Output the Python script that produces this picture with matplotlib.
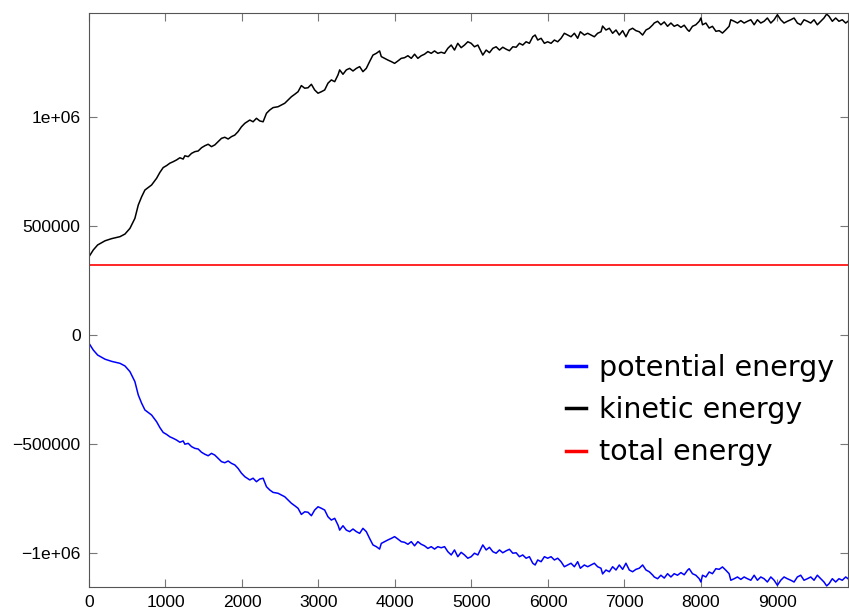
import numpy as np
import matplotlib
matplotlib.use("Agg")
import matplotlib.pyplot as plt

# time steps of the MD run
steps = [0, 56, 113, 209, 296, 405, 470, 535, 600, 644, 688, 731, 818,
         884, 927, 970, 1014, 1057, 1101, 1145, 1188, 1231, 1253, 1297, 1340, 1384,
         1427, 1471, 1514, 1558, 1601, 1645, 1688, 1732, 1775, 1819, 1863, 1906, 1949,
         1993, 2037, 2102, 2145, 2189, 2232, 2276, 2320, 2363, 2406, 2471, 2515,
         2559, 2602, 2646, 2689, 2733, 2776, 2820, 2863, 2907, 2950, 2994, 3038, 3081,
         3124, 3168, 3212, 3255, 3277, 3320, 3364, 3407, 3451, 3495, 3538, 3581, 3625,
         3668, 3712, 3756, 3799, 3821, 3864, 3908, 3952, 3995, 4038, 4082, 4125, 4169,
         4213, 4256, 4299, 4343, 4386, 4430, 4474, 4517, 4560, 4604, 4648, 4691, 4735,
         4778, 4821, 4865, 4909, 4952,
         4996, 5039, 5083, 5126, 5148, 5192, 5235, 5279, 5322, 5366, 5409, 5453, 5496,
         5540, 5584, 5627, 5670, 5714, 5757, 5801, 5832, 5866, 5910, 5953, 5996, 6040,
         6084, 6127, 6171, 6214, 6258, 6301, 6345, 6388, 6423, 6475, 6519, 6562, 6606,
         6649, 6693, 6714, 6758, 6802, 6845, 6889, 6932, 6976, 7019, 7063, 7106, 7150,
         7193, 7237, 7281, 7324, 7368,
         7389, 7433, 7476, 7520, 7563, 7607, 7650, 7693, 7738, 7781, 7824, 7846, 7889,
         7933, 7977, 7999, 8020, 8064, 8107, 8150, 8195, 8238, 8281, 8325, 8368, 8390,
         8434, 8477, 8521, 8564, 8607, 8652, 8695, 8738, 8782, 8825, 8868, 8913, 8956,
         8999, 9043, 9086, 9129, 9174, 9217, 9260, 9304, 9347, 9391, 9435, 9478, 9521,
         9565, 9608, 9643, 9674, 9717, 9761, 9804, 9847, 9892, 9922]

# energies in units of 1000
kinetic_k = [359, 390, 413, 432, 442, 451, 463, 489, 535, 596, 634, 665, 688,
             719, 746, 768, 777, 788, 795, 803, 813, 807, 822, 818, 833, 841,
             844, 859, 868, 875, 864, 872, 887, 902, 907, 899, 910, 917, 933,
             955, 971, 986, 978, 994, 982, 978, 1017, 1032, 1043, 1047, 1055,
             1063, 1078, 1093, 1104, 1116, 1144, 1132, 1134, 1150, 1124, 1109, 1116, 1124,
             1155, 1170, 1162, 1193, 1216, 1196, 1216, 1223, 1211, 1223, 1231, 1208, 1223,
             1254, 1284, 1292, 1303, 1277, 1269, 1261, 1254, 1246, 1257, 1269, 1272, 1281,
             1269, 1288, 1269, 1281, 1288, 1300, 1292, 1303, 1292, 1297, 1292, 1315, 1330,
             1307, 1338, 1318, 1330, 1345,
             1338, 1322, 1330, 1300, 1284, 1307, 1295, 1315, 1322, 1307, 1320, 1311, 1304,
             1322, 1320, 1338, 1330, 1345, 1338, 1368, 1376, 1353, 1361, 1338, 1345, 1338,
             1353, 1345, 1361, 1384, 1376, 1368, 1384, 1361, 1391, 1376, 1384, 1376, 1368,
             1384, 1391, 1417, 1399, 1407, 1384, 1399, 1376, 1396, 1368, 1399, 1407, 1396,
             1391, 1376, 1399, 1407, 1422,
             1431, 1439, 1423, 1436, 1416, 1431, 1416, 1423, 1411, 1421, 1400, 1393, 1416,
             1423, 1439, 1454, 1423, 1431, 1408, 1416, 1393, 1396, 1385, 1400, 1416, 1446,
             1439, 1431, 1442, 1431, 1439, 1446, 1423, 1446, 1431, 1439, 1454, 1431, 1446,
             1469, 1446, 1431, 1439, 1446, 1454, 1431, 1423, 1446, 1439, 1431, 1446, 1423,
             1439, 1454, 1472, 1462, 1439, 1454, 1439, 1446, 1431, 1439]

potential_k = [-38, -69, -92, -111, -121, -130, -142, -168, -214, -275, -313, -344, -367,
               -398, -425, -447, -456, -467, -474, -482, -492, -486, -501, -497, -512, -520,
               -523, -538, -547, -554, -543, -551, -566, -581, -586, -578, -589, -596, -612,
               -634, -650, -665, -657, -673, -661, -657, -696, -711, -722, -726, -734,
               -742, -757, -772, -783, -795, -823, -811, -813, -829, -803, -788, -795, -803,
               -834, -849, -841, -872, -895, -875, -895, -902, -890, -902, -910, -887, -902,
               -933, -963, -971, -982, -956, -948, -940, -933, -925, -936, -948, -951, -960,
               -948, -967, -948, -960, -967, -979, -971, -982, -971, -976, -971, -994, -1009,
               -986, -1017, -997, -1009, -1024,
               -1017, -1001, -1009, -979, -963, -986, -974, -994, -1001, -986, -999, -990, -983,
               -1001, -999, -1017, -1009, -1024, -1017, -1047, -1055, -1032, -1040, -1017, -1024, -1017,
               -1032, -1024, -1040, -1063, -1055, -1047, -1063, -1040, -1070, -1055, -1063, -1055, -1047,
               -1063, -1070, -1096, -1078, -1086, -1063, -1078, -1055, -1075, -1047, -1078, -1086, -1075,
               -1070, -1055, -1078, -1086, -1101,
               -1110, -1118, -1102, -1115, -1095, -1110, -1095, -1102, -1090, -1100, -1079, -1072, -1095,
               -1102, -1118, -1133, -1102, -1110, -1087, -1095, -1072, -1075, -1064, -1079, -1095, -1125,
               -1118, -1110, -1121, -1110, -1118, -1125, -1102, -1125, -1110, -1118, -1133, -1110, -1125,
               -1148, -1125, -1110, -1118, -1125, -1133, -1110, -1102, -1125, -1118, -1110, -1125, -1102,
               -1118, -1133, -1151, -1141, -1118, -1133, -1118, -1125, -1110, -1118]

total_k = 321

kinetic = np.array(kinetic_k) * 1000.0
potential = np.array(potential_k) * 1000.0

fig = plt.figure(figsize=(8.49, 6.12), dpi=100)
ax = fig.add_axes([89 / 849, 25 / 612, 759 / 849, 574 / 612])

ax.plot(steps, potential, color="#0000ff", lw=1.1, label="potential energy")
ax.plot(steps, kinetic, color="black", lw=1.1, label="kinetic energy")
ax.plot([steps[0], steps[-1]], [total_k * 1000.0] * 2, color="#ff0000", lw=1.2,
        label="total energy")

ax.set_xlim(0, 9922)
ax.set_ylim(-1.156e6, 1.477e6)

ax.set_xticks(range(0, 10000, 1000))
ax.set_yticks([-1e6, -5e5, 0, 5e5, 1e6])
ax.set_yticklabels(["\u22121e+06", "\u2212500000", "0", "500000", "1e+06"])

for s in ax.spines.values():
    s.set_color("#555555")
    s.set_linewidth(0.8)
ax.tick_params(direction="in", length=5.5, width=0.8, color="#777777",
               top=True, right=True, labelsize=12.6, pad=6)
for lab in ax.get_xticklabels() + ax.get_yticklabels():
    lab.set_fontfamily("Liberation Sans")

ax.legend(loc="upper left", bbox_to_anchor=(566 / 849, 1 - 354 / 612),
          bbox_transform=fig.transFigure, frameon=False, fontsize=20.5,
          handlelength=0.7, handletextpad=0.45, labelspacing=0.5,
          borderpad=0, borderaxespad=0)
for line in ax.get_legend().get_lines():
    line.set_linewidth(2.5)

fig.savefig("out.png", dpi=100)
